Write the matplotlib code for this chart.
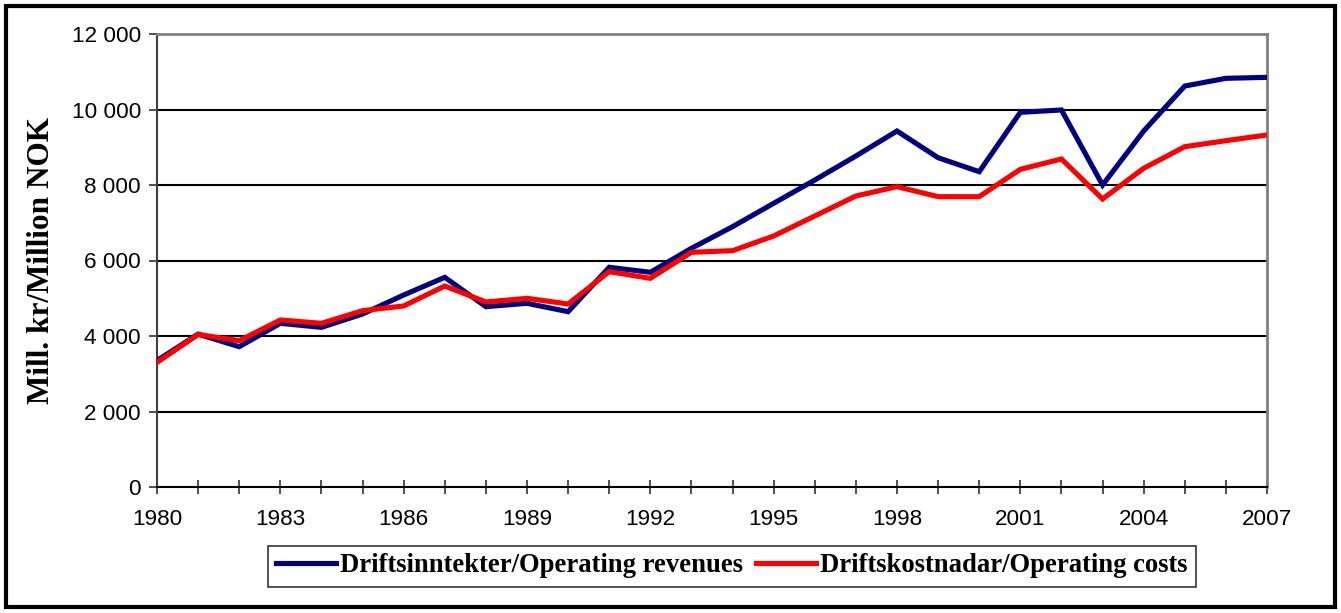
"""Operating revenues and costs, 1980-2007, in million NOK."""

import matplotlib
matplotlib.use("Agg")
import matplotlib.pyplot as plt
from matplotlib.patches import Rectangle
from matplotlib.ticker import FixedLocator, MultipleLocator

years = list(range(1980, 2008))
revenues = [3350, 4050, 3716, 4336, 4229, 4583, 5086, 5554, 4777, 4866,
            4644, 5820, 5687, 6323, 6896, 7515, 8132, 8768, 9430, 8723,
            8352, 9925, 9987, 8000, 9430, 10622, 10826, 10852]
costs = [3300, 4040, 3876, 4424, 4336, 4671, 4795, 5324, 4901, 4998,
         4848, 5704, 5528, 6217, 6260, 6649, 7179, 7709, 7956, 7691,
         7691, 8415, 8689, 7629, 8442, 9015, 9174, 9325]
series_labels = ["Driftsinntekter/Operating revenues",
                 "Driftskostnadar/Operating costs"]
y_ticks = [0, 2000, 4000, 6000, 8000, 10000, 12000]
y_tick_labels = ["0", "2 000", "4 000", "6 000", "8 000", "10 000", "12 000"]
x_label_years = list(range(1980, 2008, 3))
y_title = "Mill. kr/Million NOK"

fig = plt.figure(figsize=(13.41, 6.13), dpi=100)
ax = fig.add_axes([157 / 1341, 1 - 487 / 613, 1110 / 1341, 453 / 613])

ax.plot(years, revenues, color="#000080", lw=3.7, label=series_labels[0],
        solid_joinstyle="miter", zorder=3)
ax.plot(years, costs, color="#FF0000", lw=3.7, label=series_labels[1],
        solid_joinstyle="miter", zorder=4)

ax.set_xlim(years[0], years[-1])
ax.set_ylim(y_ticks[0], y_ticks[-1])
ax.yaxis.set_major_locator(FixedLocator(y_ticks))
ax.set_yticklabels(y_tick_labels)
ax.xaxis.set_major_locator(FixedLocator(x_label_years))
ax.xaxis.set_minor_locator(MultipleLocator(1))
for y in y_ticks[1:-1]:
    ax.axhline(y, color="black", lw=1.5, zorder=1)

sans = ["Liberation Sans", "Arial", "DejaVu Sans"]
for label in ax.get_xticklabels() + ax.get_yticklabels():
    label.set_fontfamily(sans)
    label.set_fontsize(16.2)
ax.tick_params(axis="x", which="both", direction="inout", length=10,
               width=1.2, color="#333333", pad=11)
ax.tick_params(axis="y", direction="out", length=5.5, width=1.2,
               color="#333333", pad=6)

for side in ("top", "right"):
    ax.spines[side].set_color("#808080")
    ax.spines[side].set_linewidth(2)
ax.spines["left"].set_color("#404040")
ax.spines["left"].set_linewidth(1.5)
ax.spines["bottom"].set_color("black")
ax.spines["bottom"].set_linewidth(1.5)

serif_bold = {"family": ["Liberation Serif", "Times New Roman", "DejaVu Serif"],
              "weight": "bold"}
ax.set_ylabel(y_title, fontsize=22.5, **serif_bold)
ax.yaxis.set_label_coords(-0.091, 0.5)

leg = fig.legend(loc="center", bbox_to_anchor=(732 / 1341, 1 - 566 / 613),
                 ncol=2, frameon=True, fancybox=False, handlelength=2.25,
                 handletextpad=0.15, columnspacing=0.5, borderpad=0.3,
                 borderaxespad=0, prop={**serif_bold, "size": 19.2})
leg.get_frame().set_edgecolor("black")
leg.get_frame().set_linewidth(1.2)

fig.patches.append(Rectangle((6 / 1341, 6 / 613), 1 - 12 / 1341, 1 - 12 / 613,
                             transform=fig.transFigure, fill=False,
                             edgecolor="black", lw=3))

fig.savefig("out.png", dpi=100)
